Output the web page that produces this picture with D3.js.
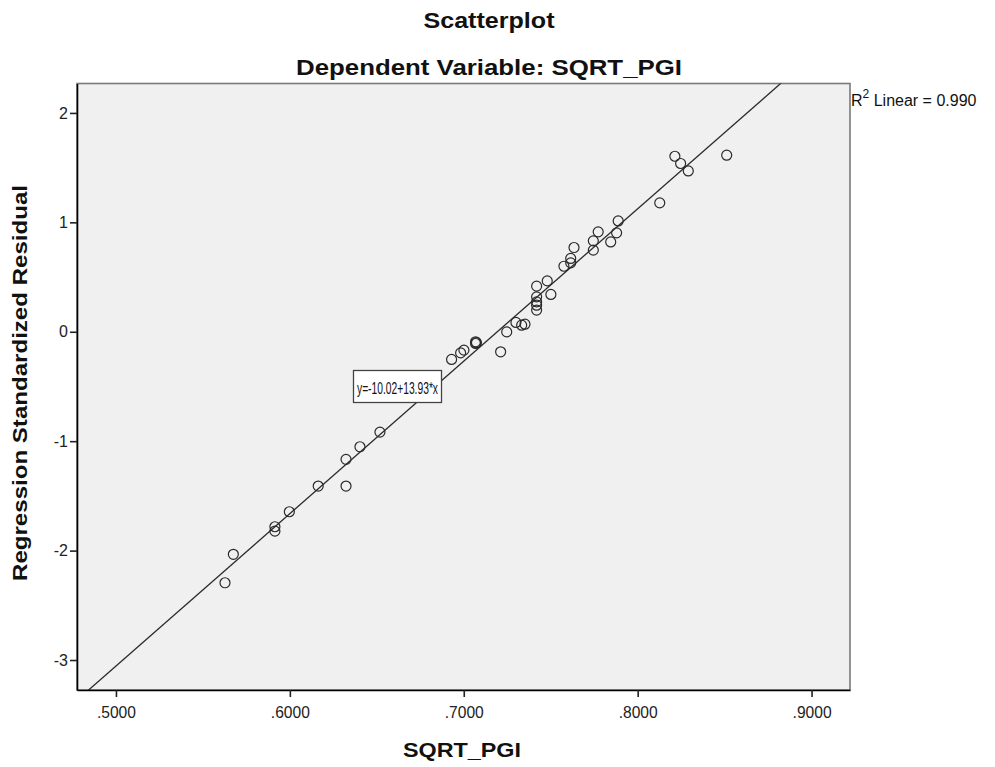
<!DOCTYPE html>
<html>
<head>
<meta charset="utf-8">
<script src="https://cdn.jsdelivr.net/npm/d3@7"></script>
<style>
  html, body { margin: 0; padding: 0; background: #ffffff; }
  svg { display: block; font-family: Arial, "Liberation Sans", sans-serif; }
</style>
</head>
<body>
<svg id="chart" width="995" height="767"></svg>
<script>
// Observations: SQRT_PGI against the regression standardized residual
const sqrtPgi = [
  0.5627, 0.5675, 0.5914, 0.5914, 0.5997, 0.6163, 0.6323, 0.6323, 0.6403, 0.6518,
  0.6930, 0.6982, 0.7001, 0.7068, 0.7068, 0.7073, 0.7212, 0.7247, 0.7300, 0.7333,
  0.7352, 0.7419, 0.7419, 0.7419, 0.7419, 0.7419, 0.7480, 0.7501, 0.7576, 0.7615,
  0.7615, 0.7634, 0.7745, 0.7745, 0.7773, 0.7845, 0.7879, 0.7888, 0.8127, 0.8214,
  0.8247, 0.8291, 0.8512
];
const stdResidual = [
  -2.294, -2.034, -1.782, -1.822, -1.645, -1.410, -1.410, -1.166, -1.051, -0.917,
  -0.253, -0.193, -0.168, -0.092, -0.107, -0.100, -0.183, -0.001, 0.085, 0.060,
  0.069, 0.417, 0.319, 0.273, 0.243, 0.198, 0.465, 0.341, 0.599, 0.670,
  0.630, 0.770, 0.746, 0.831, 0.913, 0.821, 0.904, 1.013, 1.178, 1.604,
  1.538, 1.470, 1.614
];

// Linear fit reported on the chart
const fitIntercept = -10.02;
const fitSlope = 13.93;
const rSquared = "0.990";

const xTicks = [0.5, 0.6, 0.7, 0.8, 0.9];
const yTicks = [-3, -2, -1, 0, 1, 2];

const svg = d3.select("#chart");
const plot = { left: 77, top: 83.5, right: 850, bottom: 690 };

const x = d3.scaleLinear().domain([0.4776, 0.9221]).range([plot.left, plot.right]);
const y = d3.scaleLinear().domain([-3.274, 2.269]).range([plot.bottom, plot.top]);

// Plot background and frame
svg.append("rect")
  .attr("x", plot.left).attr("y", plot.top)
  .attr("width", plot.right - plot.left).attr("height", plot.bottom - plot.top)
  .attr("fill", "#f0f0f0")
  .attr("stroke", "#7a7a7a").attr("stroke-width", 1.6);

svg.append("defs").append("clipPath").attr("id", "plot-clip")
  .append("rect")
  .attr("x", plot.left).attr("y", plot.top)
  .attr("width", plot.right - plot.left).attr("height", plot.bottom - plot.top);

// Fit line across the whole x range, clipped to the frame
const xd = x.domain();
svg.append("line")
  .attr("clip-path", "url(#plot-clip)")
  .attr("x1", x(xd[0])).attr("y1", y(fitIntercept + fitSlope * xd[0]))
  .attr("x2", x(xd[1])).attr("y2", y(fitIntercept + fitSlope * xd[1]))
  .attr("stroke", "#2a2a2a").attr("stroke-width", 1.3);

// Points
svg.append("g").selectAll("circle")
  .data(sqrtPgi.map((v, i) => [v, stdResidual[i]]))
  .join("circle")
  .attr("cx", d => x(d[0]))
  .attr("cy", d => y(d[1]))
  .attr("r", 5)
  .attr("fill", "none")
  .attr("stroke", "#2a2a2a")
  .attr("stroke-width", 1.2);

// Axes
const xAxis = svg.append("g")
  .attr("transform", `translate(0,${plot.bottom})`)
  .call(d3.axisBottom(x).tickValues(xTicks).tickSize(7).tickSizeOuter(0)
    .tickFormat(d => d3.format(".4f")(d).replace(/^0/, "")));
const yAxis = svg.append("g")
  .attr("transform", `translate(${plot.left},0)`)
  .call(d3.axisLeft(y).tickValues(yTicks).tickSize(7).tickSizeOuter(0)
    .tickFormat(d => String(d)));

[xAxis, yAxis].forEach(g => {
  g.select(".domain").attr("stroke", "#000").attr("stroke-width", 1.6);
  g.selectAll(".tick line").attr("stroke", "#222").attr("stroke-width", 1.6);
  g.selectAll(".tick text").attr("fill", "#222").attr("font-size", 17)
    .attr("font-family", "Arial, 'Liberation Sans', sans-serif");
});
xAxis.selectAll(".tick text").attr("dy", "1.05em").attr("textLength", 39)
  .attr("lengthAdjust", "spacingAndGlyphs");
yAxis.selectAll(".tick text").attr("x", -9).attr("font-size", 16);

// Titles
svg.append("text")
  .attr("x", 489).attr("y", 28)
  .attr("text-anchor", "middle")
  .attr("font-size", 22).attr("font-weight", "bold").attr("fill", "#111")
  .attr("textLength", 131).attr("lengthAdjust", "spacingAndGlyphs")
  .text("Scatterplot");

svg.append("text")
  .attr("x", 489).attr("y", 75)
  .attr("text-anchor", "middle")
  .attr("font-size", 22).attr("font-weight", "bold").attr("fill", "#111")
  .attr("textLength", 386).attr("lengthAdjust", "spacingAndGlyphs")
  .text("Dependent Variable: SQRT_PGI");

svg.append("text")
  .attr("x", 462).attr("y", 757)
  .attr("text-anchor", "middle")
  .attr("font-size", 21).attr("font-weight", "bold").attr("fill", "#111")
  .attr("textLength", 118).attr("lengthAdjust", "spacingAndGlyphs")
  .text("SQRT_PGI");

svg.append("text")
  .attr("transform", "translate(27,383) rotate(-90)")
  .attr("text-anchor", "middle")
  .attr("font-size", 21).attr("font-weight", "bold").attr("fill", "#111")
  .attr("textLength", 396).attr("lengthAdjust", "spacingAndGlyphs")
  .text("Regression Standardized Residual");

// R-squared note beside the frame
const r2 = svg.append("text")
  .attr("x", 851).attr("y", 106)
  .attr("font-size", 16).attr("fill", "#111");
r2.append("tspan").text("R");
r2.append("tspan").attr("dy", -8).attr("font-size", 12).text("2");
r2.append("tspan").attr("dy", 8).text(" Linear = " + rSquared);

// Fit equation label
const eqText = `y=${fitIntercept.toFixed(2)}+${fitSlope.toFixed(2)}*x`;
svg.append("rect")
  .attr("x", 353.5).attr("y", 370.5).attr("width", 88).attr("height", 32)
  .attr("fill", "#ffffff").attr("stroke", "#444").attr("stroke-width", 1.3);
svg.append("text")
  .attr("x", 357).attr("y", 394)
  .attr("font-size", 17).attr("fill", "#111")
  .attr("textLength", 81).attr("lengthAdjust", "spacingAndGlyphs")
  .text(eqText);
</script>
</body>
</html>
